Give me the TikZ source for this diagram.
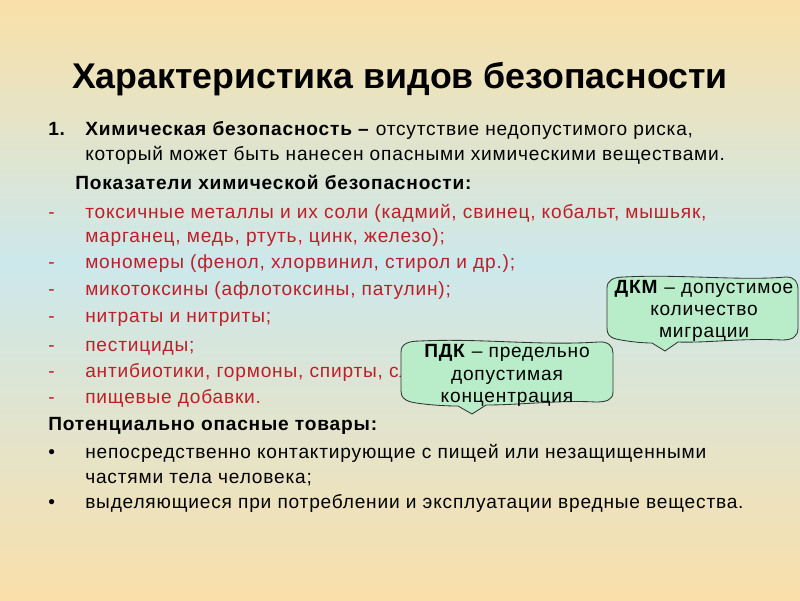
\documentclass[tikz,border=0pt]{standalone}
\usepackage{fontspec}
\setmainfont{Liberation Sans}
\newfontfamily\slidefont{Liberation Sans}[LetterSpace=4.2]
\usepackage{xcolor}
\usetikzlibrary{positioning,calc}
\definecolor{bgtop}{RGB}{250,224,168}
\definecolor{bgmid}{RGB}{204,232,236}
\definecolor{bgbot}{RGB}{250,223,170}
\definecolor{itemred}{RGB}{190,30,40}
\definecolor{calloutgreen}{RGB}{185,236,200}
\begin{document}
\begin{tikzpicture}[x=0.025cm, y=-0.025cm,
    body line/.style={anchor=base west, inner sep=0pt, font=\slidefont\fontsize{13.6}{16}\selectfont},
    red line/.style={body line, text=itemred},
    head line/.style={body line, font=\slidefont\fontsize{13.6}{16}\selectfont\bfseries},
    callout/.style={draw=black!80, line width=0.6pt, fill=calloutgreen},
    callout line/.style={anchor=base, inner sep=0pt, font=\slidefont\fontsize{13.6}{16}\selectfont}]
    \shade[top color=bgtop, bottom color=bgmid] (0,0) rectangle (800,265);
    \shade[top color=bgmid, bottom color=bgbot] (0,265) rectangle (800,600);
    \useasboundingbox (0,0) rectangle (800,600);

    \node[anchor=base, inner sep=0pt, font=\fontsize{25.4}{30}\selectfont\bfseries] (title) at (400,88) {Характеристика видов безопасности};

    \node[head line] (num) at (48,135) {1.};
    \node[body line] (chem) at (85,135) {\textbf{Химическая безопасность –} отсутствие недопустимого риска,};
    \node[body line] (chem2) at (85,160) {который может быть нанесен опасными химическими веществами.};
    \node[head line] (ind) at (75,189) {Показатели химической безопасности:};

    \foreach \y in {218,268,295,322,351,377,403}
        \node[red line] at (48,\y) {-};
    \node[red line] (metals) at (85,218) {токсичные металлы и их соли (кадмий, свинец, кобальт, мышьяк,};
    \node[red line] (metals2) at (85,242) {марганец, медь, ртуть, цинк, железо);};
    \node[red line] (mono) at (85,268) {мономеры (фенол, хлорвинил, стирол и др.);};
    \node[red line] (myco) at (85,295) {микотоксины (афлотоксины, патулин);};
    \node[red line] (nitr) at (85,322) {нитраты и нитриты;};
    \node[red line] (pest) at (85,351) {пестициды;};
    \node[red line] (anti) at (85,377) {антибиотики, гормоны, спирты, сл};
    \node[red line] (food) at (85,403) {пищевые добавки.};

    \node[head line] (goods) at (48,430) {Потенциально опасные товары:};
    \node[body line] at (48,458) {•};
    \node[body line] at (48,508) {•};
    \node[body line] (contact) at (85,458) {непосредственно контактирующие с пищей или незащищенными};
    \node[body line] (contact2) at (85,483) {частями тела человека;};
    \node[body line] (harm) at (85,508) {выделяющиеся при потреблении и эксплуатации вредные вещества.};

    \draw[callout] (607,288) .. controls (607,280) and (614,277) .. (624,277)
        .. controls (680,274) and (740,281) .. (786,277)
        .. controls (795,277) and (798,282) .. (798,290) -- (798,328)
        .. controls (798,337) and (792,340) .. (782,340)
        .. controls (740,338) and (710,343) .. (678,342) -- (665,351) -- (652,343)
        .. controls (640,343) and (625,341) .. (616,339)
        .. controls (609,337) and (607,334) .. (607,328) -- cycle;
    \node[callout line] (dkm) at (704,293) {\textbf{ДКМ} – допустимое};
    \node[callout line] (dkm2) at (704,315) {количество};
    \node[callout line] (dkm3) at (704,337) {миграции};

    \draw[callout] (401,352) .. controls (401,344) and (408,341) .. (420,341)
        .. controls (480,338) and (540,346) .. (598,342)
        .. controls (608,341) and (613,346) .. (613,353) -- (613,392)
        .. controls (613,400) and (606,402) .. (596,402)
        .. controls (560,400) and (520,405) .. (486,405) -- (472,414) -- (458,406)
        .. controls (440,406) and (420,404) .. (411,402)
        .. controls (404,400) and (401,397) .. (401,391) -- cycle;
    \node[callout line] (pdk) at (507,357) {\textbf{ПДК} – предельно};
    \node[callout line] (pdk2) at (507,380) {допустимая};
    \node[callout line] (pdk3) at (507,402) {концентрация};
\end{tikzpicture}
\end{document}
